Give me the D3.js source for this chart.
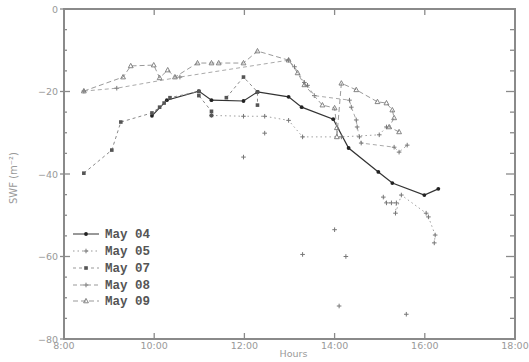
<!DOCTYPE html>
<html><head><meta charset="utf-8">
<script src="https://cdn.jsdelivr.net/npm/d3@7"></script>
<style>body{margin:0;background:#fff}svg{display:block}</style>
</head><body>
<script>
// ---- data (hours as decimal, SWF values) ----
const may04T = [9.95,10.28,10.99,11.27,11.98,12.29,12.98,13.27,13.97,14.31,14.97,15.28,15.99,16.30];
const may04V = [-25.9,-22.1,-19.9,-22.1,-22.3,-20.1,-21.3,-23.8,-26.7,-33.7,-39.5,-42.2,-45.1,-43.6];

const may05T = [11.27,11.98,12.45,12.98,13.29,14.15,14.99,15.15,null,15.08,15.15,15.26,15.37,15.35,15.48,16.03,16.08,16.23,16.21];
const may05V = [-25.8,-26.0,-26.0,-27.0,-31.0,-31.0,-30.5,-28.6,null,-45.6,-47.0,-47.0,-47.0,-49.5,-45.1,-49.5,-50.4,-54.8,-56.7];
const may05ScatterT = [11.98,12.45,13.29,14.00,14.25,14.10,15.59];
const may05ScatterV = [-35.9,-30.1,-59.5,-53.5,-60.0,-72.0,-74.0];

const may07T = [8.44,9.06,9.26,9.95,10.12,10.22,10.35,10.99,10.99,11.27,11.27,null,11.60,11.98,12.29,12.29];
const may07V = [-39.8,-34.2,-27.4,-25.2,-23.8,-22.8,-21.5,-20.0,-21.0,-24.8,-25.8,null,-21.5,-16.5,-20.1,-23.3];

const may08T = [8.44,9.17,10.57,12.98,13.11,13.33,13.40,13.55,14.33,14.37,14.48,14.50,14.55,14.59,15.32,15.43,15.61];
const may08V = [-19.9,-19.2,-16.5,-12.4,-14.0,-17.8,-18.5,-21.0,-22.1,-23.8,-26.9,-28.6,-31.0,-32.5,-33.5,-34.7,-33.0];

const may09T = [8.44,9.31,9.48,9.99,10.12,10.30,10.46,10.96,11.27,11.43,11.98,12.29,12.98,13.18,13.33,13.73,14.00,14.05,14.05,14.15,14.48,14.95,15.15,15.28,15.32,15.21,15.43];
const may09V = [-19.9,-16.5,-13.8,-13.6,-16.7,-14.8,-16.5,-13.1,-13.1,-13.1,-13.1,-10.2,-12.4,-15.5,-18.4,-23.3,-24.0,-28.8,-31.0,-18.0,-19.6,-22.5,-22.8,-24.5,-26.4,-28.6,-29.8];

const seriesNames = ["May 04","May 05","May 07","May 08","May 09"];
const xTickHours = [8,10,12,14,16,18];
const xTickLabels = ["8:00","10:00","12:00","14:00","16:00","18:00"];
const yTickValues = [0,-20,-40,-60,-80];
const yTickLabels = ["0","\u221220","\u221240","\u221260","\u221280"];

// ---- layout ----
const W = 529, H = 362;
const L = 64, R = 515, T = 9, B = 339;
const svg = d3.select("body").append("svg").attr("width", W).attr("height", H);
const x = d3.scaleLinear().domain([8,18]).range([L,R]);
const y = d3.scaleLinear().domain([0,-80]).range([T,B]);
const axisCol = "#8a8a8a";

const series = [
  {name:seriesNames[0], t:may04T, v:may04V, dash:null, col:"#333", w:1.2, mk:"circle"},
  {name:seriesNames[1], t:may05T, v:may05V, dash:"1.5,3", col:"#a0a0a0", w:1, mk:"plus"},
  {name:seriesNames[2], t:may07T, v:may07V, dash:"3,3", col:"#8a8a8a", w:1, mk:"square"},
  {name:seriesNames[3], t:may08T, v:may08V, dash:"4,3", col:"#aaaaaa", w:1, mk:"plus"},
  {name:seriesNames[4], t:may09T, v:may09V, dash:"5,3", col:"#9a9a9a", w:1, mk:"triangle"}
];

function marker(g, kind, cx, cy){
  if(kind==="circle"){
    g.append("circle").attr("cx",cx).attr("cy",cy).attr("r",1.9).attr("fill","#222");
  } else if(kind==="square"){
    g.append("rect").attr("x",cx-1.8).attr("y",cy-1.8).attr("width",3.6).attr("height",3.6).attr("fill","#555");
  } else if(kind==="plus"){
    g.append("path").attr("d",`M${cx-2.3},${cy}H${cx+2.3}M${cx},${cy-2.3}V${cy+2.3}`).attr("stroke","#777").attr("stroke-width",1);
  } else if(kind==="triangle"){
    g.append("path").attr("d",`M${cx},${cy-2.6}L${cx+2.4},${cy+1.8}L${cx-2.4},${cy+1.8}Z`).attr("fill","none").attr("stroke","#777").attr("stroke-width",0.9);
  }
}

// ---- lines ----
const gData = svg.append("g");
series.forEach(s=>{
  const pts = s.t.map((t,i)=>({t, v:s.v[i]}));
  const line = d3.line().defined(d=>d.t!==null).x(d=>x(d.t)).y(d=>y(d.v));
  gData.append("path").attr("d", line(pts)).attr("fill","none")
    .attr("stroke", s.col).attr("stroke-width", s.w)
    .attr("stroke-dasharray", s.dash);
  pts.filter(d=>d.t!==null).forEach(d=>marker(gData, s.mk, x(d.t), y(d.v)));
});
may05ScatterT.forEach((t,i)=>marker(gData,"plus",x(t),y(may05ScatterV[i])));

// ---- frame & ticks ----
svg.append("rect").attr("x",L).attr("y",T).attr("width",R-L).attr("height",B-T)
  .attr("fill","none").attr("stroke",axisCol).attr("stroke-width",2);

const gAx = svg.append("g").attr("stroke",axisCol);
d3.range(0,-81,-5).forEach(v=>{
  const major = v%20===0;
  const yy = y(v);
  gAx.append("line").attr("x1", major?L-4:L).attr("x2", L+(major?6:3)).attr("y1",yy).attr("y2",yy).attr("stroke-width",1.3);
  gAx.append("line").attr("x1", R-(major?9:5)).attr("x2", R).attr("y1",yy).attr("y2",yy).attr("stroke-width",1.3);
});
xTickHours.forEach(h=>{
  const xx = x(h);
  gAx.append("line").attr("x1",xx).attr("x2",xx).attr("y1",B).attr("y2",B-6).attr("stroke-width",1.3);
  gAx.append("line").attr("x1",xx).attr("x2",xx).attr("y1",T).attr("y2",T+6).attr("stroke-width",1.3);
});

const font = "'DejaVu Sans', sans-serif";
yTickValues.forEach((v,i)=>{
  svg.append("text").attr("x",L-6).attr("y",y(v)+3.5).attr("text-anchor","end")
    .attr("font-family",font).attr("font-size",9.5).attr("fill","#999").text(yTickLabels[i]);
});
xTickHours.forEach((h,i)=>{
  svg.append("text").attr("x",x(h)).attr("y",B+10).attr("text-anchor","middle")
    .attr("font-family",font).attr("font-size",9.5).attr("fill","#999").text(xTickLabels[i]);
});
svg.append("text").attr("x",(L+R)/2+4).attr("y",B+18).attr("text-anchor","middle")
  .attr("font-family",font).attr("font-size",9.5).attr("fill","#999").text("Hours");
svg.append("text").attr("transform",`translate(17,${178}) rotate(-90)`).attr("text-anchor","middle")
  .attr("font-family",font).attr("font-size",10).attr("fill","#999").text("SWF (m\u207B\u00B2)");

// ---- legend ----
const legY = [234,251,268,285,301];
series.forEach((s,i)=>{
  const yy = legY[i];
  svg.append("line").attr("x1",73).attr("x2",99).attr("y1",yy).attr("y2",yy)
    .attr("stroke", i===0?"#333":"#999").attr("stroke-width",1).attr("stroke-dasharray", s.dash);
  marker(svg, s.mk, 86, yy);
  svg.append("text").attr("x",105).attr("y",yy+4).attr("font-family","'Liberation Mono', monospace")
    .attr("font-weight","bold").attr("font-size",12.5).attr("fill","#555").text(s.name);
});
</script>
</body></html>
